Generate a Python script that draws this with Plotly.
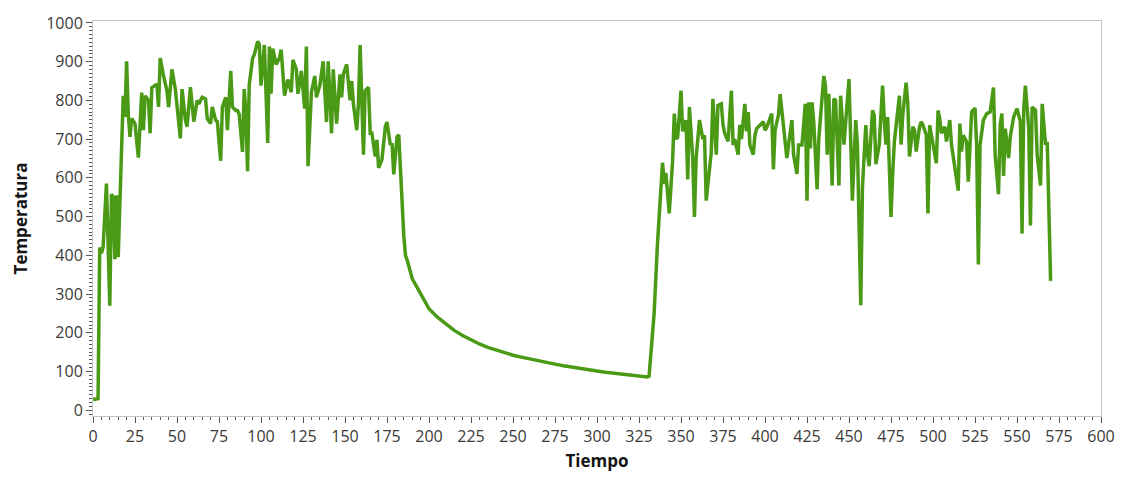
import plotly.graph_objects as go

# Tiempo (s) and Temperatura readings of the run
tiempo = [
    0, 1, 3, 4, 5, 6, 8, 10, 11, 12, 13, 14, 15, 17, 18, 19, 20, 21, 22, 23,
    25, 27, 29, 30, 31, 33, 34, 35, 38, 39, 40, 42, 44, 45, 47, 49, 50, 52, 53, 55,
    56, 58, 60, 62, 63, 65, 67, 68, 70, 71, 73, 74, 76, 77, 79, 80, 82, 83, 85, 86,
    87, 89, 90, 91, 92, 93, 95, 96, 98, 99, 100, 102, 104, 105, 106, 107, 109, 111, 112, 114,
    116, 118, 119, 121, 122, 124, 126, 127, 128, 130, 132, 133, 135, 137, 139, 140, 142, 143, 145, 147,
    148, 149, 151, 153, 154, 155, 157, 158, 159, 161, 162, 164, 165, 166, 168, 169, 170, 172, 174, 175,
    177, 178, 179, 181, 182, 183,
    184, 185, 186, 187, 190, 195, 200, 205, 210, 215, 220, 225, 230, 235, 240, 245, 250, 255, 260, 265,
    270, 275, 280, 285, 290, 295, 300, 305, 310, 315, 320, 325, 330,
    331, 332, 333, 334, 336, 339, 340, 341, 343, 345, 346, 347, 348, 350, 351, 353, 354, 355, 357, 358,
    359, 361, 363, 364, 365, 367, 368, 369, 371, 372, 374, 375, 376, 378, 380, 381, 382, 384, 385, 386,
    388, 389, 390, 391, 393, 394, 395, 397, 399, 400, 401, 404, 405, 406, 408, 409, 410, 413, 414, 416,
    417, 419, 420, 422, 424, 425, 426, 427, 428, 429, 431, 432, 435, 436, 437, 438, 440, 441, 442, 444,
    445, 446, 447, 450, 451, 452, 454, 455, 457, 458, 460, 461, 462, 464, 465, 466, 468, 470, 471, 472,
    473, 475, 476, 477, 480, 481, 482, 484, 485, 486, 488, 489, 490, 492, 493, 494, 496, 497, 498, 500,
    502, 503, 504, 505, 507, 508, 510, 511, 512, 515, 516, 517, 518, 520, 521, 523, 525, 526, 527, 528,
    530, 532, 534, 536, 537, 539, 540, 541, 542, 543, 545, 546, 548, 550, 552, 553, 554, 555, 557, 558,
    559, 561, 562, 564, 565, 567, 568, 570,
]

temperatura = [
    30, 28, 30, 420, 405, 420, 585, 270, 558, 550, 390, 555, 395, 700, 812, 757, 901, 766, 706, 753,
    740, 652, 820, 723, 812, 800, 715, 833, 842, 783, 909, 863, 825, 783, 880, 829, 787, 702, 829, 749,
    732, 834, 745, 800, 791, 808, 804, 753, 740, 783, 749, 745, 644, 783, 808, 723, 876, 783, 774, 774,
    765, 667, 829, 770, 617, 840, 909, 918, 952, 945, 838, 943, 690, 939, 817, 934, 893, 910, 931, 812,
    854, 821, 905, 880, 817, 876, 779, 939, 630, 821, 863, 808, 838, 901, 744, 901, 715, 880, 740, 867,
    808, 867, 893, 800, 850, 791, 723, 791, 943, 660, 825, 834, 715, 715, 655, 698, 626, 647, 732, 744,
    685, 690, 609, 706, 711, 613,
    520, 450, 400, 388, 340, 300, 262, 240, 222, 206, 193, 181, 171, 162, 155, 148, 142, 137, 132, 127,
    123, 119, 115, 111, 108, 104, 101, 98, 96, 94, 92, 89, 86,
    88, 150, 215, 250, 430, 639, 584, 613, 508, 643, 766, 700, 705, 825, 720, 749, 596, 783, 650, 499,
    651, 749, 700, 710, 541, 618, 665, 804, 660, 787, 791, 737, 715, 694, 825, 685, 700, 660, 737, 700,
    791, 720, 770, 685, 660, 710, 727, 736, 745, 723, 730, 766, 622, 723, 762, 816, 770, 651, 685, 749,
    660, 610, 685, 685, 791, 541, 795, 676, 795, 745, 571, 700, 863, 838, 660, 817, 580, 804, 800, 580,
    812, 753, 686, 855, 680, 541, 749, 686, 271, 575, 736, 660, 630, 774, 762, 635, 686, 838, 749, 686,
    757, 499, 610, 694, 812, 686, 762, 846, 791, 655, 732, 723, 668, 732, 745, 736, 711, 508, 736, 686,
    638, 774, 753, 715, 732, 694, 749, 686, 652, 567, 740, 668, 710, 693, 590, 770, 780, 680, 376, 685,
    749, 766, 770, 833, 660, 558, 737, 766, 605, 727, 651, 706, 757, 779, 745, 456, 779, 838, 727, 477,
    783, 775, 660, 580, 791, 685, 693, 334,
]

x_ticks = list(range(0, 601, 25))
y_ticks = list(range(0, 1001, 100))

font_family = "Open Sans, DejaVu Sans, sans-serif"
tick_color = "#555555"
frame_color = "#c4c4c4"
label_color = "#3a3a3a"
title_color = "#151515"

fig = go.Figure()
fig.add_trace(go.Scatter(
    x=tiempo,
    y=temperatura,
    mode="lines",
    line=dict(color="#4a9a16", width=3.5),
    showlegend=False,
))

fig.update_layout(
    width=1127,
    height=479,
    margin=dict(l=93, r=23, t=14, b=63),
    paper_bgcolor="white",
    plot_bgcolor="white",
    font=dict(family=font_family, size=16, color=label_color),
)

fig.update_xaxes(
    range=[0, 600],
    tickvals=x_ticks,
    ticktext=[str(v) for v in x_ticks],
    showgrid=False,
    zeroline=False,
    showline=True,
    linecolor=frame_color,
    linewidth=1,
    mirror=True,
    ticks="outside",
    ticklen=6,
    tickwidth=1,
    tickcolor=tick_color,
    minor=dict(dtick=5, ticks="outside", ticklen=3, tickcolor=tick_color, showgrid=False),
    tickfont=dict(size=16, color=label_color),
    title=dict(text="<b>Tiempo</b>", font=dict(size=17, color=title_color), standoff=8),
)

fig.update_yaxes(
    range=[-15, 1005],
    tickvals=y_ticks,
    ticktext=[str(v) for v in y_ticks],
    showgrid=False,
    zeroline=False,
    showline=True,
    linecolor=frame_color,
    linewidth=1,
    mirror=True,
    ticks="outside",
    ticklen=6,
    tickwidth=1,
    tickcolor=tick_color,
    minor=dict(dtick=10, ticks="outside", ticklen=3, tickcolor=tick_color, showgrid=False),
    tickfont=dict(size=16, color=label_color),
    title=dict(text="<b>Temperatura</b>", font=dict(size=17, color=title_color), standoff=14),
)

fig.write_html("out.html")
